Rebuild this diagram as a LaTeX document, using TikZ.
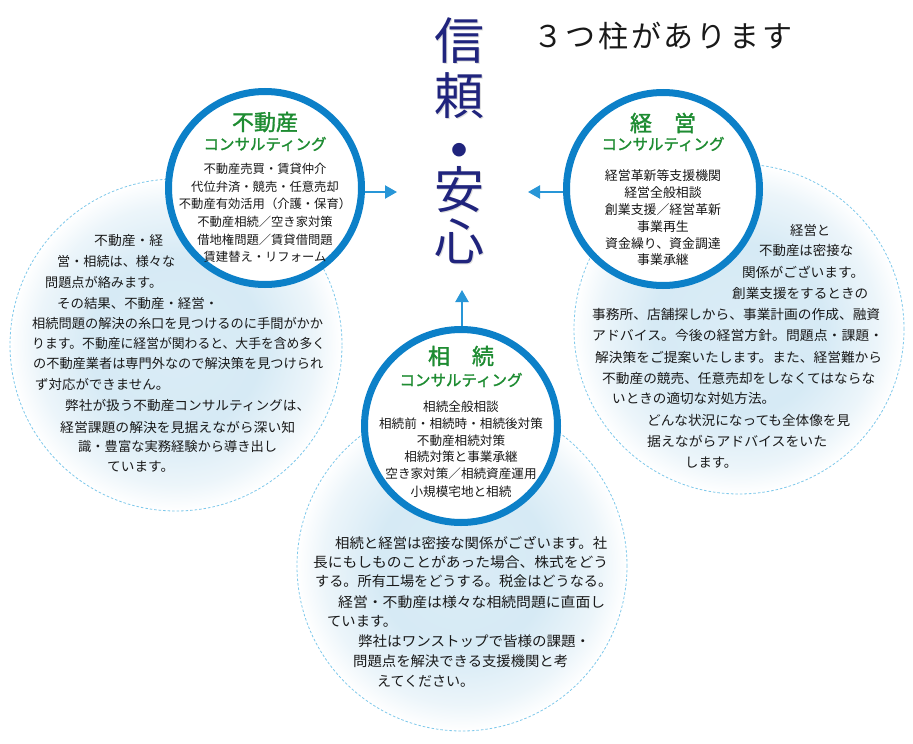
\documentclass[tikz,border=0pt]{standalone}
\usepackage{fontspec}
\usepackage{graphicx}
\setmainfont{Noto Sans CJK JP}
\newfontfamily\jpb[FakeBold=1.5]{Noto Sans CJK JP}
\usetikzlibrary{arrows.meta,calc}
\definecolor{ringblue}{RGB}{12,128,200}
\definecolor{arrblue}{RGB}{40,150,215}
\definecolor{dashblue}{RGB}{125,200,235}
\definecolor{headgreen}{RGB}{30,140,50}
\definecolor{navy}{RGB}{32,36,125}
\definecolor{txt}{RGB}{25,25,25}
\definecolor{bfa}{RGB}{218,236,246}
\definecolor{bfb}{RGB}{214,234,245}
\definecolor{bfc}{RGB}{236,245,250}
\pgfdeclareradialshading{bluefade}{\pgfpointorigin}{color(0bp)=(bfa);color(13bp)=(bfb);color(21bp)=(bfc);color(25bp)=(white);color(50bp)=(white)}
\newlength\fitlen
\newcommand\fitto[2]{\settowidth{\fitlen}{#2}\pgfmathsetmacro\fitsx{#1/\fitlen}\scalebox{\fitsx}[1]{#2}}
\def\bfs{13.2}
\def\ifs{12.3}
\newcommand\bline[5]{\node[bodytext,anchor=base west] (#1) at (#2,{#3+0.38*\bfs}) {\fitto{#4}{#5}};}
\newcommand\iline[4]{\node[itemtext,anchor=base] (#1) at (#2,{#3+0.38*\ifs}) {#4};}
\begin{document}
\begin{tikzpicture}[x=1pt,y=-1pt,
  ring/.style={circle,draw=ringblue,line width=7pt,fill=white,minimum size=193pt,inner sep=0pt},
  bubble/.style={circle,shade,shading=bluefade,draw=dashblue,line width=0.8pt,dash pattern=on 2.5pt off 2pt,minimum size=#1,inner sep=0pt},
  bodytext/.style={inner sep=0pt,text=txt,font=\fontsize{\bfs}{\bfs}\selectfont},
  itemtext/.style={inner sep=0pt,text=txt,font=\fontsize{\ifs}{\ifs}\selectfont},
  headbig/.style={inner sep=0pt,anchor=base,text=headgreen,font=\jpb\fontsize{22}{22}\selectfont},
  headsmall/.style={inner sep=0pt,anchor=base,text=headgreen,font=\jpb\fontsize{15.5}{15.5}\selectfont},
  titlech/.style={inner sep=0pt,anchor=base,text=navy,font=\fontsize{50}{50}\selectfont},
  titleshadow/.style={inner sep=0pt,anchor=base,text=black!30,opacity=0.45,font=\fontsize{50}{50}\selectfont},
  arr/.style={draw=arrblue,line width=2.2pt,-{Triangle[length=12pt,width=13pt]}}
]
\fill[white] (0,0) rectangle (913,744);
\useasboundingbox (0,0) rectangle (913,744);

% background bubbles
\node[bubble=332pt] (b1) at (176,345) {};
\node[bubble=330pt] (b2) at (739,329) {};
\node[bubble=330pt] (b3) at (462,566) {};

% rings
\node[ring] (c1) at (265,188) {};
\node[ring] (c2) at (663,189) {};
\node[ring] (c3) at (461,426) {};

% title
\node[titleshadow] (ts1) at (460.5,{41.5+0.38*50}) {信};
\node[titleshadow] (ts2) at (460.5,{96.5+0.38*50}) {頼};
\node[titleshadow] (ts4) at (460.5,{190.5+0.38*50}) {安};
\node[titleshadow] (ts5) at (460.5,{242.5+0.38*50}) {心};
\node[titlech] (t1) at (459,{40+0.38*50}) {信};
\node[titlech] (t2) at (459,{95+0.38*50}) {頼};
\node[titlech,font=\fontsize{64}{64}\selectfont] (t3) at (459,{150+0.38*64}) {・};
\node[titlech] (t4) at (459,{189+0.38*50}) {安};
\node[titlech] (t5) at (459,{241+0.38*50}) {心};

\node[inner sep=0pt,anchor=base west,text=txt,font=\fontsize{30}{30}\selectfont] (sub) at (533,{36+0.38*30})
  {３\kern2.7pt つ\kern2.7pt 柱\kern2.7pt が\kern2.7pt あ\kern2.7pt り\kern2.7pt ま\kern2.7pt す};

% circle 1
\node[headbig] (h1) at (265,{122+0.38*22}) {不動産};
\node[headsmall] (s1) at (265,{144+0.38*15.5}) {コンサルティング};
\def\ifs{12.3}
\iline{p1}{265}{169}{不動産売買・賃貸仲介}
\iline{p2}{265}{186.5}{代位弁済・競売・任意売却}
\iline{p3}{265}{204}{不動産有効活用（介護・保育）}
\iline{p4}{265}{222}{不動産相続／空き家対策}
\iline{p5}{265}{240}{借地権問題／賃貸借問題}
\iline{p6}{265}{257}{賃建替え・リフォーム}

% circle 2
\node[headbig] (h2) at (663,{123+0.38*22}) {経　営};
\node[headsmall] (s2) at (663,{144+0.38*15.5}) {コンサルティング};
\def\ifs{12.9}
\iline{q1}{663}{176}{経営革新等支援機関}
\iline{q2}{663}{193}{経営全般相談}
\iline{q3}{663}{210}{創業支援／経営革新}
\iline{q4}{663}{227}{事業再生}
\iline{q5}{663}{244}{資金繰り、資金調達}
\iline{q6}{663}{260}{事業承継}

% circle 3
\node[headbig] (h3) at (461,{356+0.38*22}) {相　続};
\node[headsmall] (s3) at (461,{380+0.38*15.5}) {コンサルティング};
\def\ifs{12.6}
\iline{u1}{461}{407}{相続全般相談}
\iline{u2}{461}{424}{相続前・相続時・相続後対策}
\iline{u3}{461}{441}{不動産相続対策}
\iline{u4}{461}{457}{相続対策と事業承継}
\iline{u5}{461}{474}{空き家対策／相続資産運用}
\iline{u6}{461}{492}{小規模宅地と相続}

% left text
\def\bfs{13.2}
\bline{l1}{94}{240}{69}{不動産・経}
\bline{l2}{57}{261}{118}{営・相続は、様々な}
\bline{l3}{45}{282}{117}{問題点が絡みます。}
\bline{l4}{57}{303}{161}{その結果、不動産・経営・}
\bline{l5}{32}{323}{291}{相続問題の解決の糸口を見つけるのに手間がかか}
\bline{l6}{32}{343}{293}{ります。不動産に経営が関わると、大手を含め多く}
\bline{l7}{33}{363}{290}{の不動産業者は専門外なので解決策を見つけられ}
\bline{l8}{35}{384}{134}{ず対応ができません。}
\bline{l9}{65}{405}{245}{弊社が扱う不動産コンサルティングは、}
\bline{l10}{60}{427}{235}{経営課題の解決を見据えながら深い知}
\bline{l11}{78}{446}{199}{識・豊富な実務経験から導き出し}
\bline{l12}{107}{466}{67}{ています。}

% right text
\def\bfs{13.3}
\bline{r1}{790}{230}{40}{経営と}
\bline{r2}{759}{250}{94}{不動産は密接な}
\bline{r3}{742}{272}{122}{関係がございます。}
\bline{r4}{732}{293}{136}{創業支援をするときの}
\bline{r5}{592}{314}{288}{事務所、店舗探しから、事業計画の作成、融資}
\bline{r6}{592}{335}{291}{アドバイス。今後の経営方針。問題点・課題・}
\bline{r7}{595}{357}{287}{解決策をご提案いたします。また、経営難から}
\bline{r8}{602}{378}{273}{不動産の競売、任意売却をしなくてはならな}
\bline{r9}{612}{398}{163}{いときの適切な対処方法。}
\bline{r10}{647}{420}{203}{どんな状況になっても全体像を見}
\bline{r11}{647}{441}{180}{据えながらアドバイスをいた}
\bline{r12}{685}{462}{52}{します。}

% bottom text
\def\bfs{14}
\bline{m1}{335}{543}{272}{相続と経営は密接な関係がございます。社}
\bline{m2}{313}{562}{295}{長にもしものことがあった場合、株式をどう}
\bline{m3}{315}{581}{297}{する。所有工場をどうする。税金はどうなる。}
\bline{m4}{338}{602}{267}{経営・不動産は様々な相続問題に直面し}
\bline{m5}{327}{621}{70}{ています。}
\bline{m6}{358}{641}{232}{弊社はワンストップで皆様の課題・}
\bline{m7}{353}{661}{215}{問題点を解決できる支援機関と考}
\bline{m8}{377}{681}{97}{えてください。}

% arrows
\coordinate (a1) at (397,192);
\coordinate (a2) at (528,192);
\coordinate (a3) at (462,290);
\draw[arr] (c1.east |- a1) -- (a1);
\draw[arr] (c2.west |- a2) -- (a2);
\draw[arr] (c3.north -| a3) -- (a3);
\end{tikzpicture}
\end{document}
